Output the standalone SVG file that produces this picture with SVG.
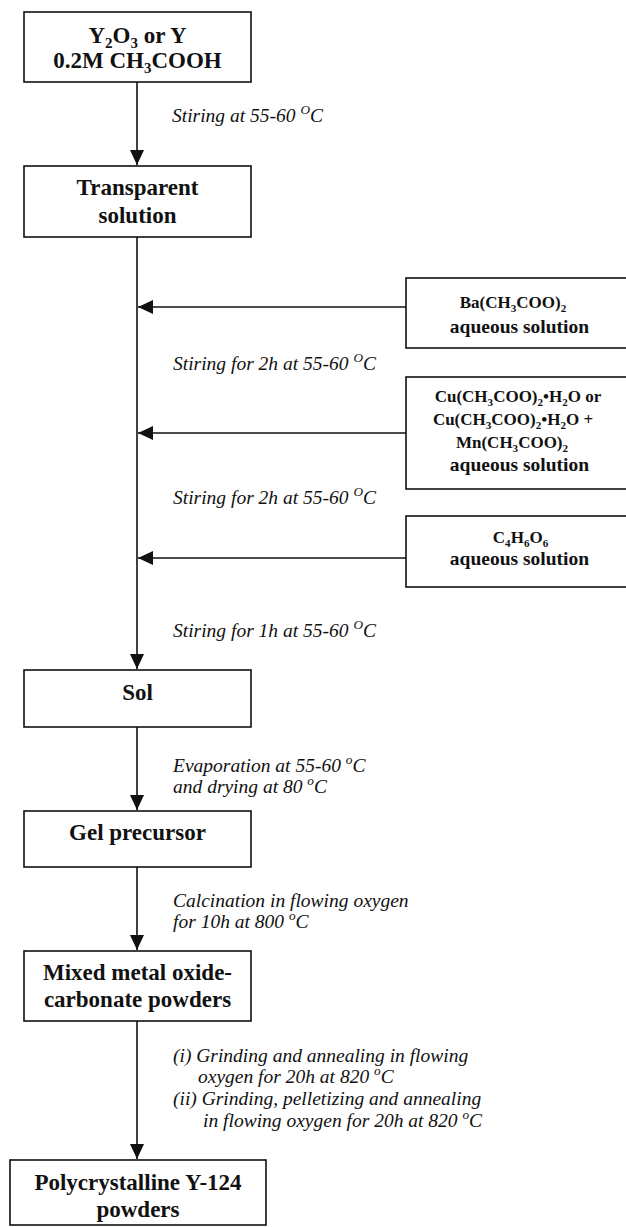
<svg xmlns="http://www.w3.org/2000/svg" width="626" height="1227" viewBox="0 0 626 1227">
<style>
.box{fill:#fff;stroke:#111;stroke-width:1.6}
.b{font-family:"Liberation Serif","Times New Roman",serif;font-weight:bold;font-size:23px;fill:#111;text-anchor:middle}
.r{font-family:"Liberation Serif","Times New Roman",serif;font-weight:bold;font-size:19.5px;fill:#111;text-anchor:middle}
.f{font-family:"Liberation Serif","Times New Roman",serif;font-weight:bold;font-size:17px;fill:#111;text-anchor:middle}
.i{font-family:"Liberation Serif","Times New Roman",serif;font-style:italic;font-size:19.5px;fill:#111}
.sub{font-size:0.65em}
.sup{font-size:0.68em}
.ln{stroke:#111;stroke-width:1.6;fill:none}
</style>
<defs>
<marker id="ah" markerWidth="16" markerHeight="14" refX="15" refY="7" orient="auto" markerUnits="userSpaceOnUse">
<path d="M0,0 L15,7 L0,14 Z" fill="#111"/>
</marker>
</defs>
<rect width="626" height="1227" fill="#fff"/>
<g id="connectors">
<line class="ln" x1="137" y1="82" x2="137" y2="165" marker-end="url(#ah)"/>
<line class="ln" x1="137" y1="237" x2="137" y2="669" marker-end="url(#ah)"/>
<line class="ln" x1="406" y1="307" x2="138" y2="307" marker-end="url(#ah)"/>
<line class="ln" x1="406" y1="433" x2="138" y2="433" marker-end="url(#ah)"/>
<line class="ln" x1="406" y1="558" x2="138" y2="558" marker-end="url(#ah)"/>
<line class="ln" x1="137" y1="727" x2="137" y2="810" marker-end="url(#ah)"/>
<line class="ln" x1="137" y1="867" x2="137" y2="950" marker-end="url(#ah)"/>
<line class="ln" x1="137" y1="1021" x2="137" y2="1159" marker-end="url(#ah)"/>
<text class="i" x="172" y="122">Stiring at 55-60 <tspan class="sup" dy="-8">O</tspan><tspan dy="8">C</tspan></text>
<text class="i" x="173" y="370">Stiring for 2h at 55-60 <tspan class="sup" dy="-8">O</tspan><tspan dy="8">C</tspan></text>
<text class="i" x="173" y="504">Stiring for 2h at 55-60 <tspan class="sup" dy="-8">O</tspan><tspan dy="8">C</tspan></text>
<text class="i" x="173" y="637">Stiring for 1h at 55-60 <tspan class="sup" dy="-8">O</tspan><tspan dy="8">C</tspan></text>
<text class="i" x="173" y="772">Evaporation at 55-60 <tspan class="sup" dy="-8">o</tspan><tspan dy="8">C</tspan></text>
<text class="i" x="173" y="793">and drying at 80 <tspan class="sup" dy="-8">o</tspan><tspan dy="8">C</tspan></text>
<text class="i" x="173" y="907">Calcination in flowing oxygen</text>
<text class="i" x="173" y="928">for 10h at 800 <tspan class="sup" dy="-8">o</tspan><tspan dy="8">C</tspan></text>
<text class="i" x="173" y="1062">(i) Grinding and annealing in flowing</text>
<text class="i" x="198" y="1083">oxygen for 20h at 820 <tspan class="sup" dy="-8">o</tspan><tspan dy="8">C</tspan></text>
<text class="i" x="173" y="1105">(ii) Grinding, pelletizing and annealing</text>
<text class="i" x="203" y="1127">in flowing oxygen for 20h at 820 <tspan class="sup" dy="-8">o</tspan><tspan dy="8">C</tspan></text>
</g>
<g id="n1">
<rect class="box" x="24" y="12" width="227" height="70"/>
<text class="b" x="137.5" y="43">Y<tspan class="sub" dy="5">2</tspan><tspan dy="-5">O</tspan><tspan class="sub" dy="5">3</tspan><tspan dy="-5"> or Y</tspan></text>
<text class="b" x="137.5" y="68">0.2M CH<tspan class="sub" dy="5">3</tspan><tspan dy="-5">COOH</tspan></text>
</g>
<g id="n2">
<rect class="box" x="24" y="166" width="227" height="71"/>
<text class="b" x="137.5" y="195">Transparent</text>
<text class="b" x="137.5" y="223">solution</text>
</g>
<g id="n3">
<rect class="box" x="406" y="278" width="240" height="70"/>
<text class="f" x="513" y="308">Ba(CH<tspan class="sub" dy="4">3</tspan><tspan dy="-4">COO)</tspan><tspan class="sub" dy="4">2</tspan></text>
<text class="r" x="519.5" y="333">aqueous solution</text>
</g>
<g id="n4">
<rect class="box" x="406" y="377" width="240" height="112"/>
<text class="f" x="518" y="402">Cu(CH<tspan class="sub" dy="4">3</tspan><tspan dy="-4">COO)</tspan><tspan class="sub" dy="4">2</tspan><tspan dy="-4">•H</tspan><tspan class="sub" dy="4">2</tspan><tspan dy="-4">O or</tspan></text>
<text class="f" x="513" y="425">Cu(CH<tspan class="sub" dy="4">3</tspan><tspan dy="-4">COO)</tspan><tspan class="sub" dy="4">2</tspan><tspan dy="-4">•H</tspan><tspan class="sub" dy="4">2</tspan><tspan dy="-4">O +</tspan></text>
<text class="f" x="512" y="448">Mn(CH<tspan class="sub" dy="4">3</tspan><tspan dy="-4">COO)</tspan><tspan class="sub" dy="4">2</tspan></text>
<text class="r" x="519.5" y="471">aqueous solution</text>
</g>
<g id="n5">
<rect class="box" x="406" y="516" width="240" height="71"/>
<text class="f" x="520.5" y="543">C<tspan class="sub" dy="4">4</tspan><tspan dy="-4">H</tspan><tspan class="sub" dy="4">6</tspan><tspan dy="-4">O</tspan><tspan class="sub" dy="4">6</tspan></text>
<text class="r" x="519.5" y="565">aqueous solution</text>
</g>
<g id="n6">
<rect class="box" x="24" y="670" width="227" height="57"/>
<text class="b" x="137.5" y="700">Sol</text>
</g>
<g id="n7">
<rect class="box" x="24" y="811" width="227" height="56"/>
<text class="b" x="137.5" y="840">Gel precursor</text>
</g>
<g id="n8">
<rect class="box" x="24" y="951" width="227" height="70"/>
<text class="b" x="137.5" y="980">Mixed metal oxide-</text>
<text class="b" x="137.5" y="1007">carbonate powders</text>
</g>
<g id="n9">
<rect class="box" x="10" y="1160" width="256" height="65"/>
<text class="b" x="138" y="1190">Polycrystalline Y-124</text>
<text class="b" x="138" y="1217">powders</text>
</g>
</svg>
